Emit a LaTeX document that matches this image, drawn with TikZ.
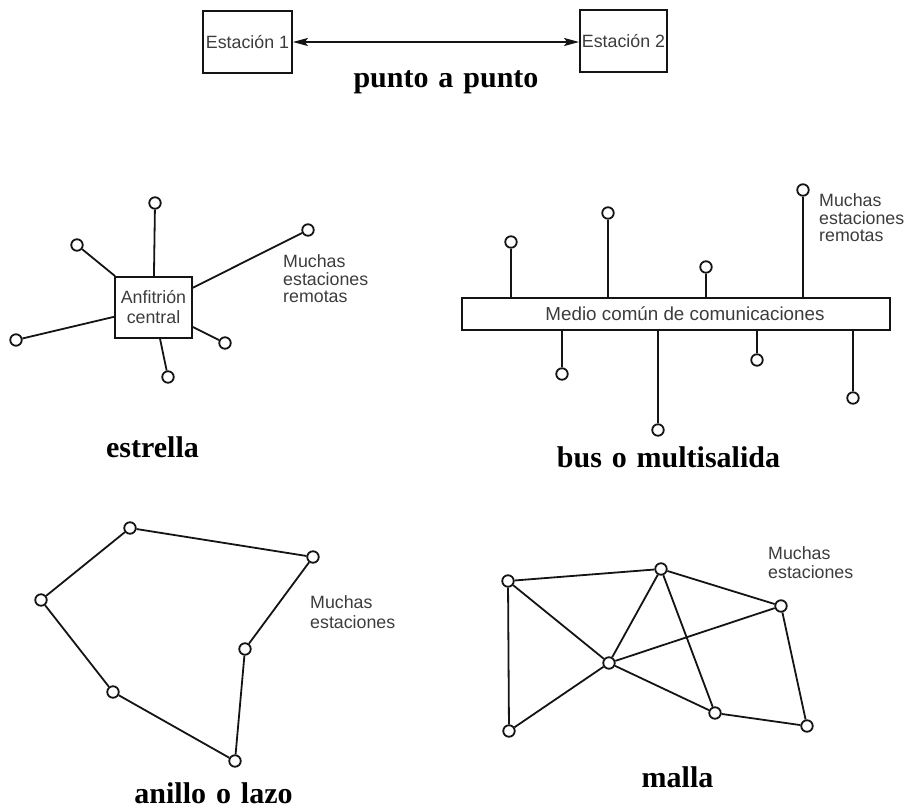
\documentclass[tikz,border=0pt]{standalone}
\usepackage{fontspec}
\usetikzlibrary{arrows.meta}
\newfontfamily\labfont{Liberation Sans}
\newfontfamily\ttlfont{Liberation Serif}
\newcommand\ttlsetup{\ttlfont\bfseries\fontsize{30}{36}\selectfont\spaceskip=0.33em plus 0.1em\relax}
\newcommand\labsetup{\labfont\fontsize{17.8}{20}\selectfont}
\definecolor{txtgray}{RGB}{60,60,60}
\definecolor{ink}{RGB}{20,20,20}
\begin{document}
\begin{tikzpicture}[x=1pt,y=-1pt,
  sta/.style={circle,draw=ink,line width=1.8pt,fill=white,minimum size=11.5pt,inner sep=0pt},
  boxn/.style={draw=ink,line width=1.8pt,rectangle,inner sep=0pt,font=\labsetup,text=txtgray},
  wire/.style={draw=ink,line width=1.8pt},
  sanst/.style={anchor=base west,inner sep=0pt,font=\labsetup,text=txtgray},
  ttl/.style={anchor=base,inner sep=0pt,font=\ttlsetup}
]
\useasboundingbox (0,0) rectangle (915,810);
% ---- punto a punto
\node[boxn,minimum width=89pt,minimum height=62pt] (e1) at (247.5,42) {Estación 1};
\node[boxn,minimum width=87pt,minimum height=62pt] (e2) at (623.5,41) {Estación 2};
\draw[wire,{Stealth[length=15pt,width=8pt,inset=3pt]}-{Stealth[length=15pt,width=8pt,inset=3pt]}] (e1.east) -- (e2.west |- e1.east);
\node[ttl] (tp) at (446,88) {punto a punto};
% ---- estrella
\node[boxn,minimum width=77pt,minimum height=61pt,align=center] (hub) at (153.5,307.5) {Anfitrión\\central};
\node[sta] (s1) at (155,203) {};
\node[sta] (s2) at (77,245) {};
\node[sta] (s3) at (308,230) {};
\node[sta] (s4) at (16,340) {};
\node[sta] (s5) at (225,343) {};
\node[sta] (s6) at (168,377) {};
\foreach \s in {s1,s2,s3,s4,s5,s6} \draw[wire] (\s) -- (hub);
\node[sanst] (st1) at (283,268) {Muchas};
\node[sanst] (st2) at (283,285) {estaciones};
\node[sanst] (st3) at (283,302) {remotas};
\node[ttl] (te) at (152.5,457) {estrella};
% ---- bus
\node[draw=ink,line width=1.8pt,minimum width=428pt,minimum height=32pt,inner sep=0pt] (bus) at (676,314) {};
\node[inner sep=0pt,font=\labfont\fontsize{18.8}{21}\selectfont,text=txtgray] (busl) at (685,314) {Medio común de comunicaciones};
\node[sta] (t1) at (511,242) {};
\node[sta] (t2) at (608,213) {};
\node[sta] (t3) at (706,267) {};
\node[sta] (t4) at (803,190) {};
\node[sta] (b1) at (562,374) {};
\node[sta] (b2) at (658,430) {};
\node[sta] (b3) at (757,360) {};
\node[sta] (b4) at (853,398) {};
\foreach \s in {t1,t2,t3,t4} \draw[wire] (\s) -- (\s |- bus.north);
\foreach \s in {b1,b2,b3,b4} \draw[wire] (\s) -- (\s |- bus.south);
\node[sanst] (bt1) at (819,207) {Muchas};
\node[sanst] (bt2) at (819,224.5) {estaciones};
\node[sanst] (bt3) at (819,242) {remotas};
\node[ttl] (tb) at (668.5,467) {bus o multisalida};
% ---- anillo
\node[sta] (r1) at (130,528) {};
\node[sta] (r2) at (313,557) {};
\node[sta] (r3) at (245,649) {};
\node[sta] (r4) at (235,761) {};
\node[sta] (r5) at (113,692) {};
\node[sta] (r6) at (41,600) {};
\draw[wire] (r1) -- (r2);
\draw[wire] (r2) -- (r3);
\draw[wire] (r3) -- (r4);
\draw[wire] (r4) -- (r5);
\draw[wire] (r5) -- (r6);
\draw[wire] (r6) -- (r1);
\node[sanst] (rt1) at (310,608) {Muchas};
\node[sanst] (rt2) at (310,628) {estaciones};
\node[ttl] (tr) at (213.5,803) {anillo o lazo};
% ---- malla
\node[sta] (mA) at (508,581) {};
\node[sta] (mB) at (661,569) {};
\node[sta] (mC) at (781,606) {};
\node[sta] (mD) at (609,663) {};
\node[sta] (mE) at (715,713) {};
\node[sta] (mF) at (807,726) {};
\node[sta] (mG) at (509,731) {};
\foreach \a/\b in {mA/mB,mA/mG,mA/mD,mB/mD,mB/mE,mB/mC,mC/mD,mC/mF,mD/mG,mD/mE,mE/mF}
  \draw[wire] (\a) -- (\b);
\node[sanst] (mt1) at (768,559) {Muchas};
\node[sanst] (mt2) at (768,578) {estaciones};
\node[ttl] (tm) at (677.5,787) {malla};
\end{tikzpicture}
\end{document}
